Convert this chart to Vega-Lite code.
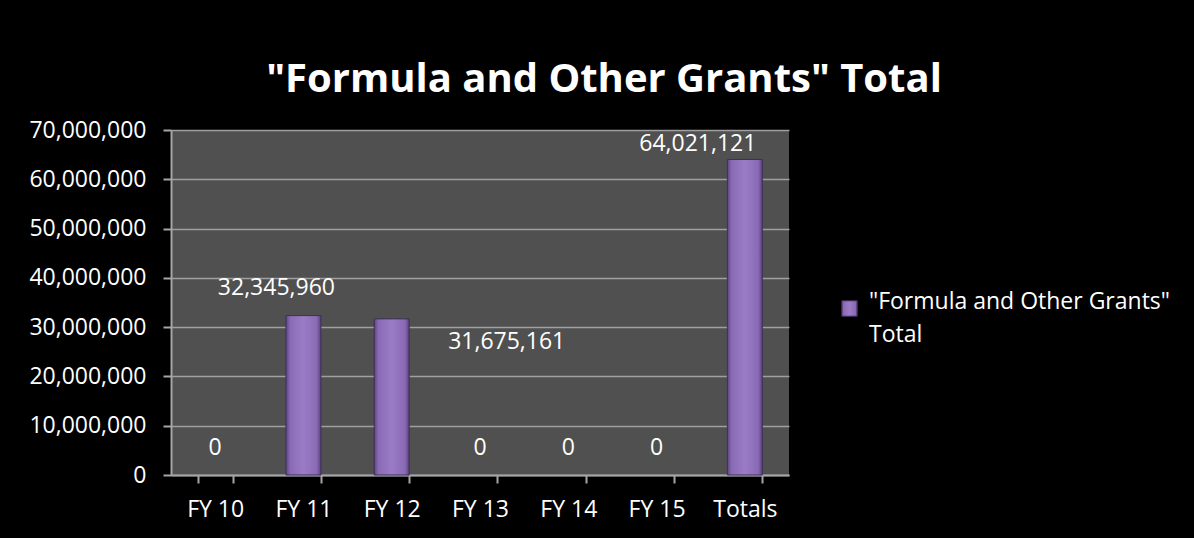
{
  "$schema": "https://vega.github.io/schema/vega-lite/v6.json",
  "autosize": "none",
  "width": 618,
  "height": 345,
  "padding": {"left": 171, "top": 130, "right": 405, "bottom": 63},
  "background": "#000000",
  "title": {
    "text": "\"Formula and Other Grants\" Total",
    "anchor": "middle",
    "dx": 124,
    "offset": 19,
    "font": "Open Sans",
    "fontSize": 40,
    "fontWeight": "bold",
    "color": "#ffffff"
  },
  "config": {
    "view": {"fill": "#505050", "stroke": null},
    "font": "Open Sans",
    "style": {"guide-label": {"lineHeight": 33}}
  },
  "data": {
    "values": [
      {"category": "FY 10", "value": 0, "series": "\"Formula and Other Grants\" Total"},
      {"category": "FY 11", "value": 32345960, "series": "\"Formula and Other Grants\" Total"},
      {"category": "FY 12", "value": 31675161, "series": "\"Formula and Other Grants\" Total"},
      {"category": "FY 13", "value": 0, "series": "\"Formula and Other Grants\" Total"},
      {"category": "FY 14", "value": 0, "series": "\"Formula and Other Grants\" Total"},
      {"category": "FY 15", "value": 0, "series": "\"Formula and Other Grants\" Total"},
      {"category": "Totals", "value": 64021121, "series": "\"Formula and Other Grants\" Total"}
    ]
  },
  "encoding": {
    "x": {
      "field": "category",
      "type": "nominal",
      "sort": null,
      "scale": {
        "domain": ["FY 10", "FY 11", "FY 12", "FY 13", "FY 14", "FY 15", "Totals"],
        "paddingInner": 0.604,
        "paddingOuter": 0.302
      },
      "axis": {
        "title": null,
        "labelAngle": 0,
        "labelFont": "Open Sans",
        "labelFontSize": 23,
        "labelColor": "#ffffff",
        "labelPadding": 15,
        "tickBand": "extent",
        "tickSize": 8,
        "tickColor": "#a6a6a6",
        "tickWidth": 2,
        "domainColor": "#a6a6a6",
        "domainWidth": 2,
        "grid": false
      }
    },
    "y": {
      "field": "value",
      "type": "quantitative",
      "scale": {"domain": [0, 70000000], "nice": false},
      "axis": {
        "title": null,
        "values": [0, 10000000, 20000000, 30000000, 40000000, 50000000, 60000000, 70000000],
        "format": ",d",
        "labelFont": "Open Sans",
        "labelFontSize": 23,
        "labelColor": "#ffffff",
        "labelPadding": 17,
        "tickSize": 8,
        "tickColor": "#a6a6a6",
        "tickWidth": 2,
        "domainColor": "#a6a6a6",
        "domainWidth": 2,
        "grid": true,
        "gridColor": "#a0a0a0",
        "gridWidth": 1.5
      }
    }
  },
  "layer": [
    {
      "transform": [{"filter": "datum.value > 0"}],
      "mark": {
        "type": "bar",
        "fill": {
          "gradient": "linear",
          "x1": 0, "y1": 0, "x2": 1, "y2": 0,
          "stops": [
            {"offset": 0, "color": "#5e4582"},
            {"offset": 0.12, "color": "#8a6ab4"},
            {"offset": 0.5, "color": "#9a7cc6"},
            {"offset": 0.88, "color": "#8a6ab4"},
            {"offset": 1, "color": "#5a417c"}
          ]
        },
        "strokeWidth": 1
      },
      "encoding": {
        "stroke": {
          "field": "series",
          "type": "nominal",
          "scale": {"range": ["#3f2f58"]},
          "legend": {
            "title": null,
            "orient": "none",
            "legendX": 667,
            "legendY": 167,
            "padding": 0,
            "symbolType": "square",
            "symbolSize": 240,
            "symbolFillColor": "#8f70b8",
            "symbolStrokeWidth": 1,
            "labelFont": "Open Sans",
            "labelFontSize": 23,
            "labelColor": "#ffffff",
            "labelLimit": 400,
            "labelOffset": 8,
            "labelBaseline": "alphabetic",
            "labelExpr": "['\"Formula and Other Grants\"', 'Total']"
          }
        }
      }
    },
    {
      "transform": [{"filter": "datum.value == 0"}],
      "mark": {"type": "text", "color": "#ffffff", "font": "Open Sans", "fontSize": 23, "baseline": "middle", "dy": -27},
      "encoding": {"text": {"field": "value", "type": "quantitative", "format": ",d"}}
    },
    {
      "transform": [{"filter": "datum.category == 'FY 11'"}],
      "mark": {"type": "text", "color": "#ffffff", "font": "Open Sans", "fontSize": 23, "baseline": "middle", "dx": -27, "dy": -28},
      "encoding": {"text": {"field": "value", "type": "quantitative", "format": ",d"}}
    },
    {
      "transform": [{"filter": "datum.category == 'FY 12'"}],
      "mark": {"type": "text", "color": "#ffffff", "font": "Open Sans", "fontSize": 23, "baseline": "middle", "dx": 115, "dy": 23},
      "encoding": {"text": {"field": "value", "type": "quantitative", "format": ",d"}}
    },
    {
      "transform": [{"filter": "datum.category == 'Totals'"}],
      "mark": {"type": "text", "color": "#ffffff", "font": "Open Sans", "fontSize": 23, "baseline": "middle", "dx": -47, "dy": -15},
      "encoding": {"text": {"field": "value", "type": "quantitative", "format": ",d"}}
    }
  ]
}
